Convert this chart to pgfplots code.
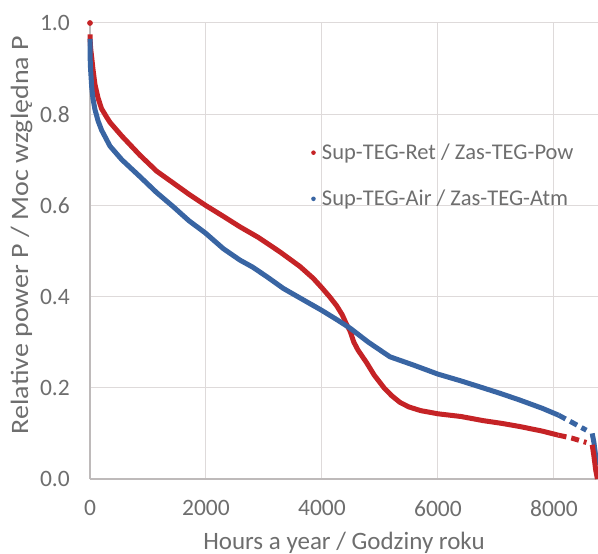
\documentclass[border=0pt]{standalone}
\usepackage{pgfplots}
\pgfplotsset{compat=1.18}
\usepackage{fontspec}
\setmainfont{Carlito}
\definecolor{cred}{RGB}{197,35,38}
\definecolor{cblue}{RGB}{57,101,163}
\definecolor{ctext}{RGB}{110,110,110}
\definecolor{cgrid}{RGB}{222,218,218}
\definecolor{caxis}{RGB}{190,186,186}
\begin{document}
\begin{tikzpicture}
\path[use as bounding box] (-90bp,-75bp) rectangle (508bp,479bp);
\begin{axis}[
  at={(0,0)}, anchor=south west,
  scale only axis, width=508bp, height=456bp,
  xmin=0, xmax=8760, ymin=0, ymax=1,
  clip=false,
  axis x line*=bottom, axis y line*=left,
  axis line style={draw=caxis, line width=1.2bp, -},
  grid=major, major grid style={draw=cgrid, line width=1bp},
  major tick length=0pt,
  xtick={0,2000,4000,6000,8000},
  ytick={0,0.2,0.4,0.6,0.8,1.0},
  /pgf/number format/assume math mode=true,
  /pgf/number format/1000 sep={},
  yticklabel style={/pgf/number format/fixed, /pgf/number format/fixed zerofill, /pgf/number format/precision=1},
  every tick label/.append style={font=\fontsize{23.5bp}{28bp}\selectfont, text=ctext},
  yticklabel style={anchor=east, inner sep=0pt, xshift=-20bp},
  xticklabel style={anchor=north, inner sep=0pt, yshift=-21bp},
  xlabel={Hours a year / Godziny roku},
  ylabel={Relative power P / Moc względna P},
  every axis x label/.style={at={(axis description cs:0.5,0)}, anchor=base, yshift=-70bp, font=\fontsize{25bp}{30bp}\selectfont, text=ctext, inner sep=0pt},
  every axis y label/.style={at={(axis description cs:-0.122,0.535)}, anchor=base, rotate=90, xscale=1.12, font=\fontsize{25bp}{30bp}\selectfont, text=ctext, inner sep=0pt},
  legend style={at={(rel axis cs:0.435,0.665)}, anchor=west, draw=none, fill=none,
    font=\fontsize{22.5bp}{27bp}\selectfont, text=ctext, inner sep=0pt, row sep=27bp,
    nodes={inner sep=1bp}},
  legend cell align=left,
  legend image code/.code={\fill[#1, draw=none] (0bp,0bp) circle (2.3bp); \path[draw=none, fill=none] (2.3bp,0bp) -- (7.5bp,0bp);},
]
\addplot[color=cred, line width=5bp, line join=round] coordinates {
(1,0.975)(5,0.955)(15,0.94)(29,0.925)(50,0.90)(86,0.865)(140,0.835)(200,0.812)(280,0.795)(345,0.782)(550,0.752)(862,0.71)(1150,0.675)(1437,0.649)(1700,0.625)(1994,0.60)(2300,0.576)(2586,0.553)(2900,0.53)(3276,0.498)(3621,0.466)(3850,0.44)(3994,0.42)(4130,0.40)(4253,0.38)(4350,0.36)(4420,0.34)(4483,0.325)(4550,0.30)(4620,0.283)(4770,0.255)(4900,0.228)(5070,0.20)(5200,0.183)(5345,0.168)(5500,0.158)(5700,0.15)(6000,0.143)(6400,0.137)(6780,0.128)(7100,0.122)(7414,0.115)(7800,0.105)(8080,0.096)
};
\addlegendentry{Sup-TEG-Ret / Zas-TEG-Pow}
\addplot[color=cblue, line width=5bp, line join=round] coordinates {
(0,0.965)(2,0.94)(5,0.91)(12,0.895)(29,0.86)(50,0.835)(86,0.81)(140,0.785)(200,0.765)(345,0.73)(550,0.70)(862,0.663)(1150,0.628)(1437,0.597)(1700,0.567)(1994,0.539)(2300,0.505)(2586,0.48)(2800,0.465)(3046,0.444)(3333,0.418)(3621,0.397)(3994,0.37)(4250,0.35)(4483,0.331)(4800,0.30)(5172,0.268)(5575,0.25)(6000,0.23)(6400,0.215)(6724,0.202)(7069,0.188)(7414,0.173)(7800,0.155)(8080,0.14)
};
\addlegendentry{Sup-TEG-Air / Zas-TEG-Atm}
\addplot[forget plot, color=cred, only marks, mark=*, mark size=2.6bp] coordinates {(0,1.0)};
\addplot[forget plot, color=cred, line width=5bp, dash pattern=on 8bp off 5bp] coordinates {(8080,0.096)(8300,0.09)(8560,0.08)};
\addplot[forget plot, color=cblue, line width=5bp, dash pattern=on 8bp off 5bp] coordinates {(8080,0.14)(8300,0.125)(8560,0.107)};
\addplot[forget plot, color=cblue, line width=5bp] coordinates {(8660,0.10)(8690,0.08)(8720,0.05)(8750,0.03)};
\addplot[forget plot, color=cred, line width=5bp] coordinates {(8660,0.075)(8690,0.05)(8720,0.02)(8750,0.0)};
\end{axis}
\end{tikzpicture}
\end{document}
